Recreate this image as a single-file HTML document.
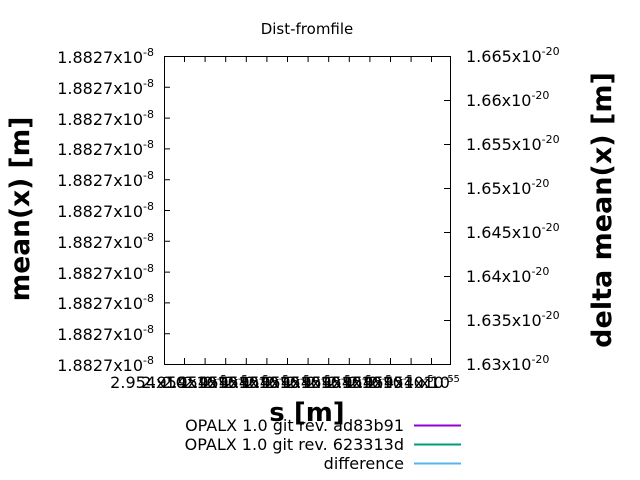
<!DOCTYPE html>
<html><head><style>body{margin:0;background:#fff}svg{display:block}</style></head><body>
<svg width="640" height="480" xmlns="http://www.w3.org/2000/svg" font-family="DejaVu Sans, Liberation Sans, sans-serif" font-size="16">
<rect width="640" height="480" fill="#fff"/>
<text x="307" y="34" text-anchor="middle" font-size="15">Dist-fromfile</text>
<rect x="164.5" y="56.5" width="286" height="308" fill="none" stroke="#000" stroke-width="1"/>
<g stroke="#000" stroke-width="1">
<path d="M184.5,56v6M205.1,56v6M225.7,56v6M246.3,56v6M266.9,56v6M287.5,56v6M308.1,56v6M328.7,56v6M349.3,56v6M369.9,56v6M390.5,56v6M411.1,56v6M431.5,56v6"/>
<path d="M184.5,364v-6M205.1,364v-6M225.7,364v-6M246.3,364v-6M266.9,364v-6M287.5,364v-6M308.1,364v-6M328.7,364v-6M349.3,364v-6M369.9,364v-6M390.5,364v-6M411.1,364v-6M431.5,364v-6"/>
<path d="M164,87.3h6M164,118.1h6M164,148.9h6M164,179.7h6M164,210.5h6M164,241.3h6M164,272.1h6M164,302.9h6M164,333.7h6"/>
<path d="M450,100.5h-6M450,144.5h-6M450,188.5h-6M450,232.5h-6M450,276.5h-6M450,320.5h-6"/>
</g>
<g text-anchor="end">
<text x="154" y="63">1.8827x10<tspan font-size="11" dy="-7">-8</tspan></text>
<text x="154" y="94">1.8827x10<tspan font-size="11" dy="-7">-8</tspan></text>
<text x="154" y="125">1.8827x10<tspan font-size="11" dy="-7">-8</tspan></text>
<text x="154" y="155">1.8827x10<tspan font-size="11" dy="-7">-8</tspan></text>
<text x="154" y="186">1.8827x10<tspan font-size="11" dy="-7">-8</tspan></text>
<text x="154" y="217">1.8827x10<tspan font-size="11" dy="-7">-8</tspan></text>
<text x="154" y="248">1.8827x10<tspan font-size="11" dy="-7">-8</tspan></text>
<text x="154" y="279">1.8827x10<tspan font-size="11" dy="-7">-8</tspan></text>
<text x="154" y="309">1.8827x10<tspan font-size="11" dy="-7">-8</tspan></text>
<text x="154" y="340">1.8827x10<tspan font-size="11" dy="-7">-8</tspan></text>
<text x="154" y="371">1.8827x10<tspan font-size="11" dy="-7">-8</tspan></text>
</g>
<g>
<text x="466" y="62">1.665x10<tspan font-size="11" dy="-7">-20</tspan></text>
<text x="466" y="106">1.66x10<tspan font-size="11" dy="-7">-20</tspan></text>
<text x="466" y="150">1.655x10<tspan font-size="11" dy="-7">-20</tspan></text>
<text x="466" y="194">1.65x10<tspan font-size="11" dy="-7">-20</tspan></text>
<text x="466" y="238">1.645x10<tspan font-size="11" dy="-7">-20</tspan></text>
<text x="466" y="282">1.64x10<tspan font-size="11" dy="-7">-20</tspan></text>
<text x="466" y="326">1.635x10<tspan font-size="11" dy="-7">-20</tspan></text>
<text x="466" y="370">1.63x10<tspan font-size="11" dy="-7">-20</tspan></text>
</g>
<g text-anchor="middle">
<text x="148" y="388">2.954x10</text>
<text x="184" y="388">2.954x10<tspan font-size="10" dy="-6">-5</tspan></text>
<text x="205" y="388">2.954x10<tspan font-size="10" dy="-6">-5</tspan></text>
<text x="226" y="388">2.954x10<tspan font-size="10" dy="-6">-5</tspan></text>
<text x="246" y="388">2.954x10<tspan font-size="10" dy="-6">-5</tspan></text>
<text x="267" y="388">2.954x10<tspan font-size="10" dy="-6">-5</tspan></text>
<text x="288" y="388">2.954x10<tspan font-size="10" dy="-6">-5</tspan></text>
<text x="308" y="388">2.954x10<tspan font-size="10" dy="-6">-5</tspan></text>
<text x="329" y="388">2.954x10<tspan font-size="10" dy="-6">-5</tspan></text>
<text x="349" y="388">2.954x10<tspan font-size="10" dy="-6">-5</tspan></text>
<text x="370" y="388">2.954x10<tspan font-size="10" dy="-6">-5</tspan></text>
<text x="391" y="388">2.954x10<tspan font-size="10" dy="-6">-5</tspan></text>
<text x="411" y="388">2.954x10<tspan font-size="10" dy="-6">-5</tspan></text>
<text x="440" y="388">x10<tspan font-size="10" dy="-6">-5</tspan></text>
</g>
<text x="307" y="421" text-anchor="middle" font-size="26" font-weight="bold">s [m]</text>
<text transform="translate(29,209) rotate(-90)" text-anchor="middle" font-size="26.5" font-weight="bold">mean(x) [m]</text>
<text transform="translate(611,210) rotate(-90)" text-anchor="middle" font-size="27" font-weight="bold">delta mean(x) [m]</text>
<g text-anchor="end">
<text x="404" y="431">OPALX 1.0 git rev. ad83b91</text>
<text x="404" y="450">OPALX 1.0 git rev. 623313d</text>
<text x="404" y="469">difference</text>
</g>
<path d="M414,425.5h47" stroke="#9400d3" stroke-width="2"/>
<path d="M414,444.5h47" stroke="#009e73" stroke-width="2"/>
<path d="M414,463.5h47" stroke="#56b4e9" stroke-width="2"/>
</svg>
</body></html>
